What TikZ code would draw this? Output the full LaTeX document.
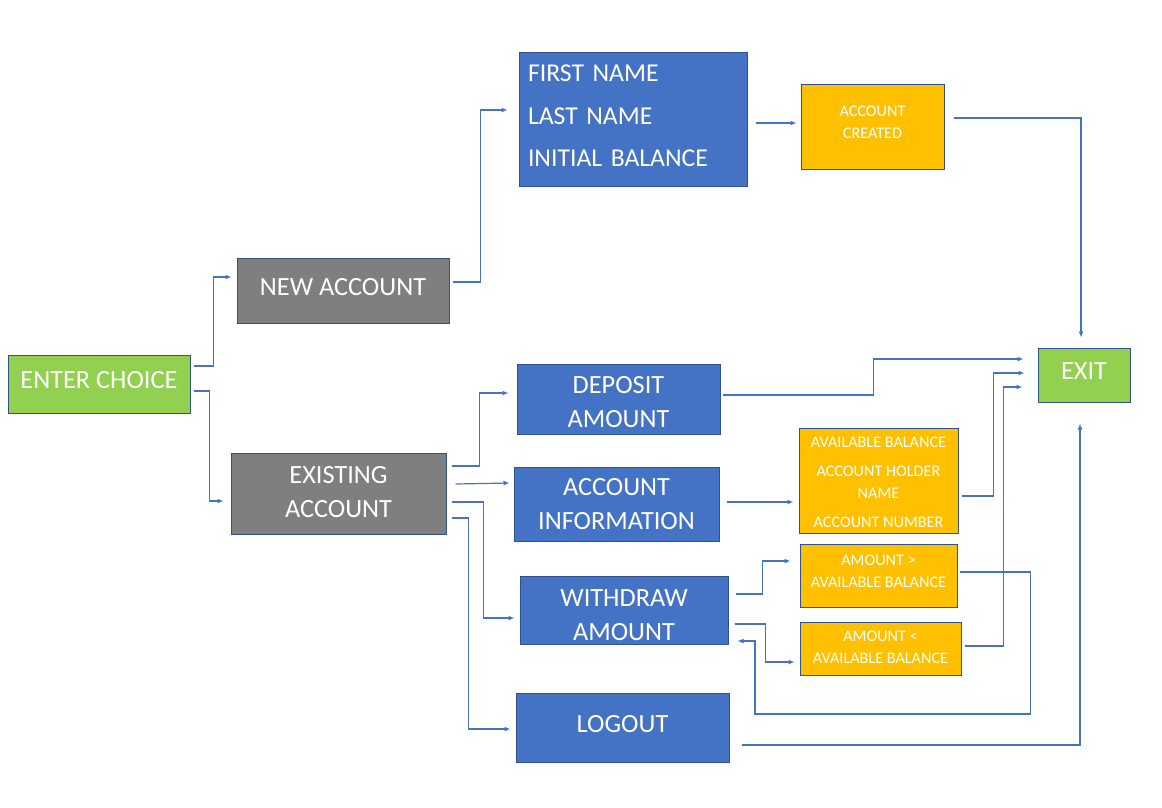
\documentclass[tikz,border=0pt]{standalone}
\usepackage{fontspec}
\setmainfont{Carlito}
\usetikzlibrary{arrows.meta}
\definecolor{cgreen}{HTML}{92D050}
\definecolor{cgray}{HTML}{7F7F7F}
\definecolor{cblue}{HTML}{4472C4}
\definecolor{corange}{HTML}{FFC000}
\definecolor{cborder}{HTML}{2F528F}
\definecolor{cline}{HTML}{4472C4}
\tikzset{
  box/.style={draw=cborder, line width=1pt, rectangle, inner sep=0pt, text=white, align=center},
  bigtext/.style={font=\fontsize{26.3}{34}\selectfont},
  smalltext/.style={font=\fontsize{16.2}{22}\selectfont},
  greenbox/.style={box, fill=cgreen, bigtext},
  graybox/.style={box, fill=cgray, bigtext},
  bluebox/.style={box, fill=cblue, bigtext},
  orangebox/.style={box, fill=corange, smalltext},
  conn/.style={draw=cline, line width=1.2pt, -{Latex[length=6pt,width=5pt]}},
}
\begin{document}
\begin{tikzpicture}[x=1pt, y=-1pt]
\fill[white] (0,0) rectangle (1162,807);
\useasboundingbox (0,0) rectangle (1162,807);

% nodes
\node[greenbox, minimum width=182pt, minimum height=58pt, text depth=8pt] (enter) at (99,384) {ENTER CHOICE};
\node[graybox, minimum width=212pt, minimum height=65pt, text depth=8pt] (newacc) at (343,290.5) {NEW ACCOUNT};
\node[graybox, minimum width=215pt, minimum height=81pt, text depth=4pt] (exist) at (338.5,493.5) {EXISTING\\ACCOUNT};
\node[box, fill=cblue, align=left, text width=210pt, inner xsep=9pt, minimum height=134pt, text height=10.2pt,
      font=\fontsize{25.7}{42.5}\selectfont] (names) at (633,119) {FIRST NAME\\LAST NAME\\INITIAL BALANCE};
\node[orangebox, minimum width=143pt, minimum height=85pt, text depth=8pt] (created) at (872.5,126.5) {ACCOUNT\\CREATED};
\node[greenbox, minimum width=92pt, minimum height=54pt, text depth=8pt] (exit) at (1084,375) {EXIT};
\node[bluebox, minimum width=203pt, minimum height=70pt] (dep) at (618.5,399) {\rule{0pt}{23pt}DEPOSIT\\AMOUNT};
\node[bluebox, minimum width=205pt, minimum height=74pt] (info) at (616.5,504) {ACCOUNT\\INFORMATION};
\node[orangebox, minimum width=159pt, minimum height=105pt] (infobox) at (878.5,480.5) {\rule{0pt}{14.5pt}AVAILABLE BALANCE\\[7pt]ACCOUNT HOLDER\\NAME\\[7pt]ACCOUNT NUMBER};
\node[orangebox, minimum width=157pt, minimum height=63pt, text depth=8pt] (gt) at (878.5,575.5) {AMOUNT >\\AVAILABLE BALANCE};
\node[orangebox, minimum width=161pt, minimum height=53pt, text depth=3pt] (lt) at (880.5,648.5) {AMOUNT <\\AVAILABLE BALANCE};
\node[bluebox, minimum width=208pt, minimum height=68pt] (wd) at (624,610) {\rule{0pt}{27pt}WITHDRAW\\AMOUNT};
\node[bluebox, minimum width=213pt, minimum height=69pt, text depth=8pt] (logout) at (622.5,727.5) {LOGOUT};

% connectors
\draw[conn] ([xshift=3pt,yshift=18pt]enter.east) -- ++(20,0) |- ([xshift=-5pt,yshift=13.5pt]newacc.west);
\draw[conn] ([xshift=3pt,yshift=-7pt]enter.east) -- ++(16,0) |- ([xshift=-7pt,yshift=-7.5pt]exist.west);
\draw[conn] ([xshift=3pt,yshift=8.5pt]newacc.east) -- ++(28,0) |- ([xshift=-11pt,yshift=9pt]names.west);
\draw[conn] ([xshift=8pt,yshift=-4pt]names.east) -- ([xshift=-4pt,yshift=-4pt]created.west |- names.east);
\draw[conn] ([xshift=9pt,yshift=8.5pt]created.east) -| ([xshift=-3pt,yshift=10pt]exit.north);
\draw[conn] ([xshift=2pt,yshift=4pt]dep.east) -- ++(151,0) |- ([xshift=-14pt,yshift=16pt]exit.west);
\draw[conn] ([xshift=3pt,yshift=-15.5pt]infobox.east) -- ++(32,0) |- ([xshift=-13pt,yshift=2pt]exit.west);
\draw[conn] ([xshift=3pt,yshift=2.5pt]lt.east) -- ++(39,0) |- ([xshift=-15pt,yshift=-12pt]exit.west);
\draw[conn] ([xshift=5pt,yshift=27.5pt]exist.east) -- ++(28,0) |- ([xshift=-8pt,yshift=6pt]dep.west);
\draw[conn] ([xshift=9pt,yshift=9.5pt]exist.east) -- ([xshift=-4pt,yshift=21pt]info.west);
\draw[conn] ([xshift=5pt,yshift=-8.5pt]exist.east) -- ++(32,0) |- ([xshift=-5pt,yshift=-8pt]wd.west);
\draw[conn] ([xshift=5pt,yshift=-24.5pt]exist.east) -- ++(17,0) |- ([xshift=-5pt,yshift=-1.5pt]logout.west);
\draw[conn] ([xshift=7pt,yshift=2pt]info.east) -- ([xshift=-5pt,yshift=-21.5pt]infobox.west);
\draw[conn] ([xshift=7pt,yshift=16pt]wd.east) -- ++(27,0) |- ([xshift=-9pt,yshift=14.5pt]gt.west);
\draw[conn] ([xshift=6pt,yshift=-14pt]wd.east) -- ++(31,0) |- ([xshift=-5pt,yshift=-13.5pt]lt.west);
\draw[conn] ([xshift=2pt,yshift=3.5pt]gt.east) -- ++(71,0) -- ++(0,142) -- (755,714) |- ([xshift=9pt,yshift=-31pt]wd.east);
\draw[conn] ([xshift=12pt,yshift=-17.5pt]logout.east) -| ([xshift=-4pt,yshift=-21pt]exit.south);
\end{tikzpicture}
\end{document}
